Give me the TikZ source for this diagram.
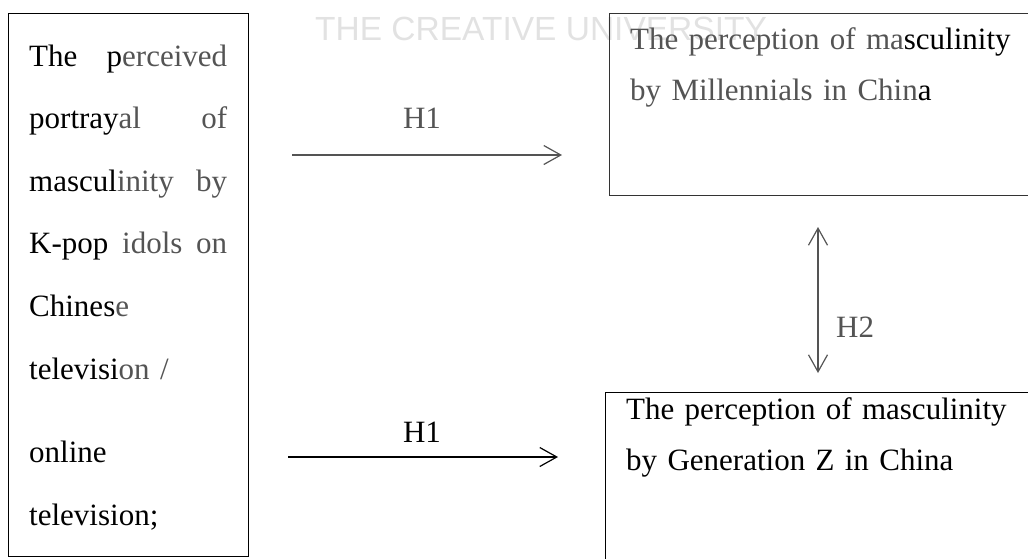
\documentclass[tikz,border=0pt]{standalone}
\usepackage{fontspec}
\setmainfont{Liberation Serif}
\newfontfamily\marksans{Liberation Sans}
\usetikzlibrary{arrows.meta,positioning}
\definecolor{inkgray}{HTML}{545454}
\definecolor{markgray}{HTML}{E2E2E2}
\newcommand{\faint}[1]{\textcolor{inkgray}{#1}}
\tikzstyle{frame}=[draw, line width=1.2pt, inner sep=0pt, rectangle]
\tikzstyle{boxtext}=[inner sep=0pt, align=left, text width=400pt, font=\fontsize{31}{51}\selectfont]
\tikzstyle{hyp}=[line width=1.2pt]
\tikzstyle{hlabel}=[inner sep=0pt, font=\fontsize{31}{36}\selectfont]

\begin{document}
\begin{tikzpicture}[x=1pt, y=-1pt, >={Straight Barb[length=17pt,width=19pt]}]
      \useasboundingbox (0,0) rectangle (1028,558);
      \clip (0,0) rectangle (1028,558);

      % watermark
      \node[anchor=base west, inner sep=0pt, text=markgray, font=\marksans\fontsize{33.5}{40}\selectfont] (mark) at (315,40) {THE CREATIVE UNIVERSITY};

      %%%%%%%%%%%%%%%%%%%%%%%%%%%%%%%%%%%%%%%%%%%%%%%%%
      % BOXES
      %%%%%%%%%%%%%%%%%%%%%%%%%%%%%%%%%%%%%%%%%%%%%%%%%
      \node[frame, minimum width=240pt, minimum height=543pt, anchor=north west] (media) at (8,13) {};
      \node[frame, draw=black!80, minimum width=440pt, minimum height=182pt, anchor=north west] (millennials) at (609,13) {};
      \node[frame, minimum width=440pt, minimum height=200pt, anchor=north west] (genz) at (605,392) {};

      % texts
      \node[boxtext, text width=198pt, anchor=base west, font=\fontsize{31}{62.6}\selectfont] (mediatext) at (29,66)
            {The\hfill p\faint{erceived}\\
             portray\faint{al}\hfill\faint{of}\\
             mascul\faint{inity}\hfill\faint{by}\\
             K-pop\hfill\faint{idols}\hfill\faint{on}\\
             Chines\faint{e}\\
             televisi\faint{on /}\\[21pt]
             online\\
             television;};
      \node[boxtext, text=inkgray, anchor=base west] (millennialstext) at (630,49)
            {The perception of ma\textcolor{black}{sculinity}\\by Millennials in Chin\textcolor{black}{a}};
      \node[boxtext, anchor=base west] (genztext) at (626,419)
            {The perception of masculinity\\by Generation Z in China};

      %%%%%%%%%%%%%%%%%%%%%%%%%%%%%%%%%%%%%%%%%%%%%%%%%
      % HYPOTHESES
      %%%%%%%%%%%%%%%%%%%%%%%%%%%%%%%%%%%%%%%%%%%%%%%%%
      % H1 (top)
      \coordinate (h1topstart) at (292,155);
      \coordinate (h1topend)   at (562,155);
      \draw[hyp, draw=inkgray, ->] (h1topstart) -- (h1topend);
      \node[hlabel, text=inkgray, anchor=base] (h1top) at (422,128) {H1};

      % H1 (bottom)
      \coordinate (h1botstart) at (288,457);
      \coordinate (h1botend)   at (558,457);
      \draw[hyp, ->] (h1botstart) -- (h1botend);
      \node[hlabel, anchor=base] (h1bot) at (422,442) {H1};

      % H2
      \coordinate (h2start) at (818,227);
      \coordinate (h2end)   at (818,373);
      \draw[hyp, draw=inkgray, <->] (h2start) -- (h2end);
      \node[hlabel, text=inkgray, anchor=base west] (h2) at (836,337) {H2};
\end{tikzpicture}
\end{document}
